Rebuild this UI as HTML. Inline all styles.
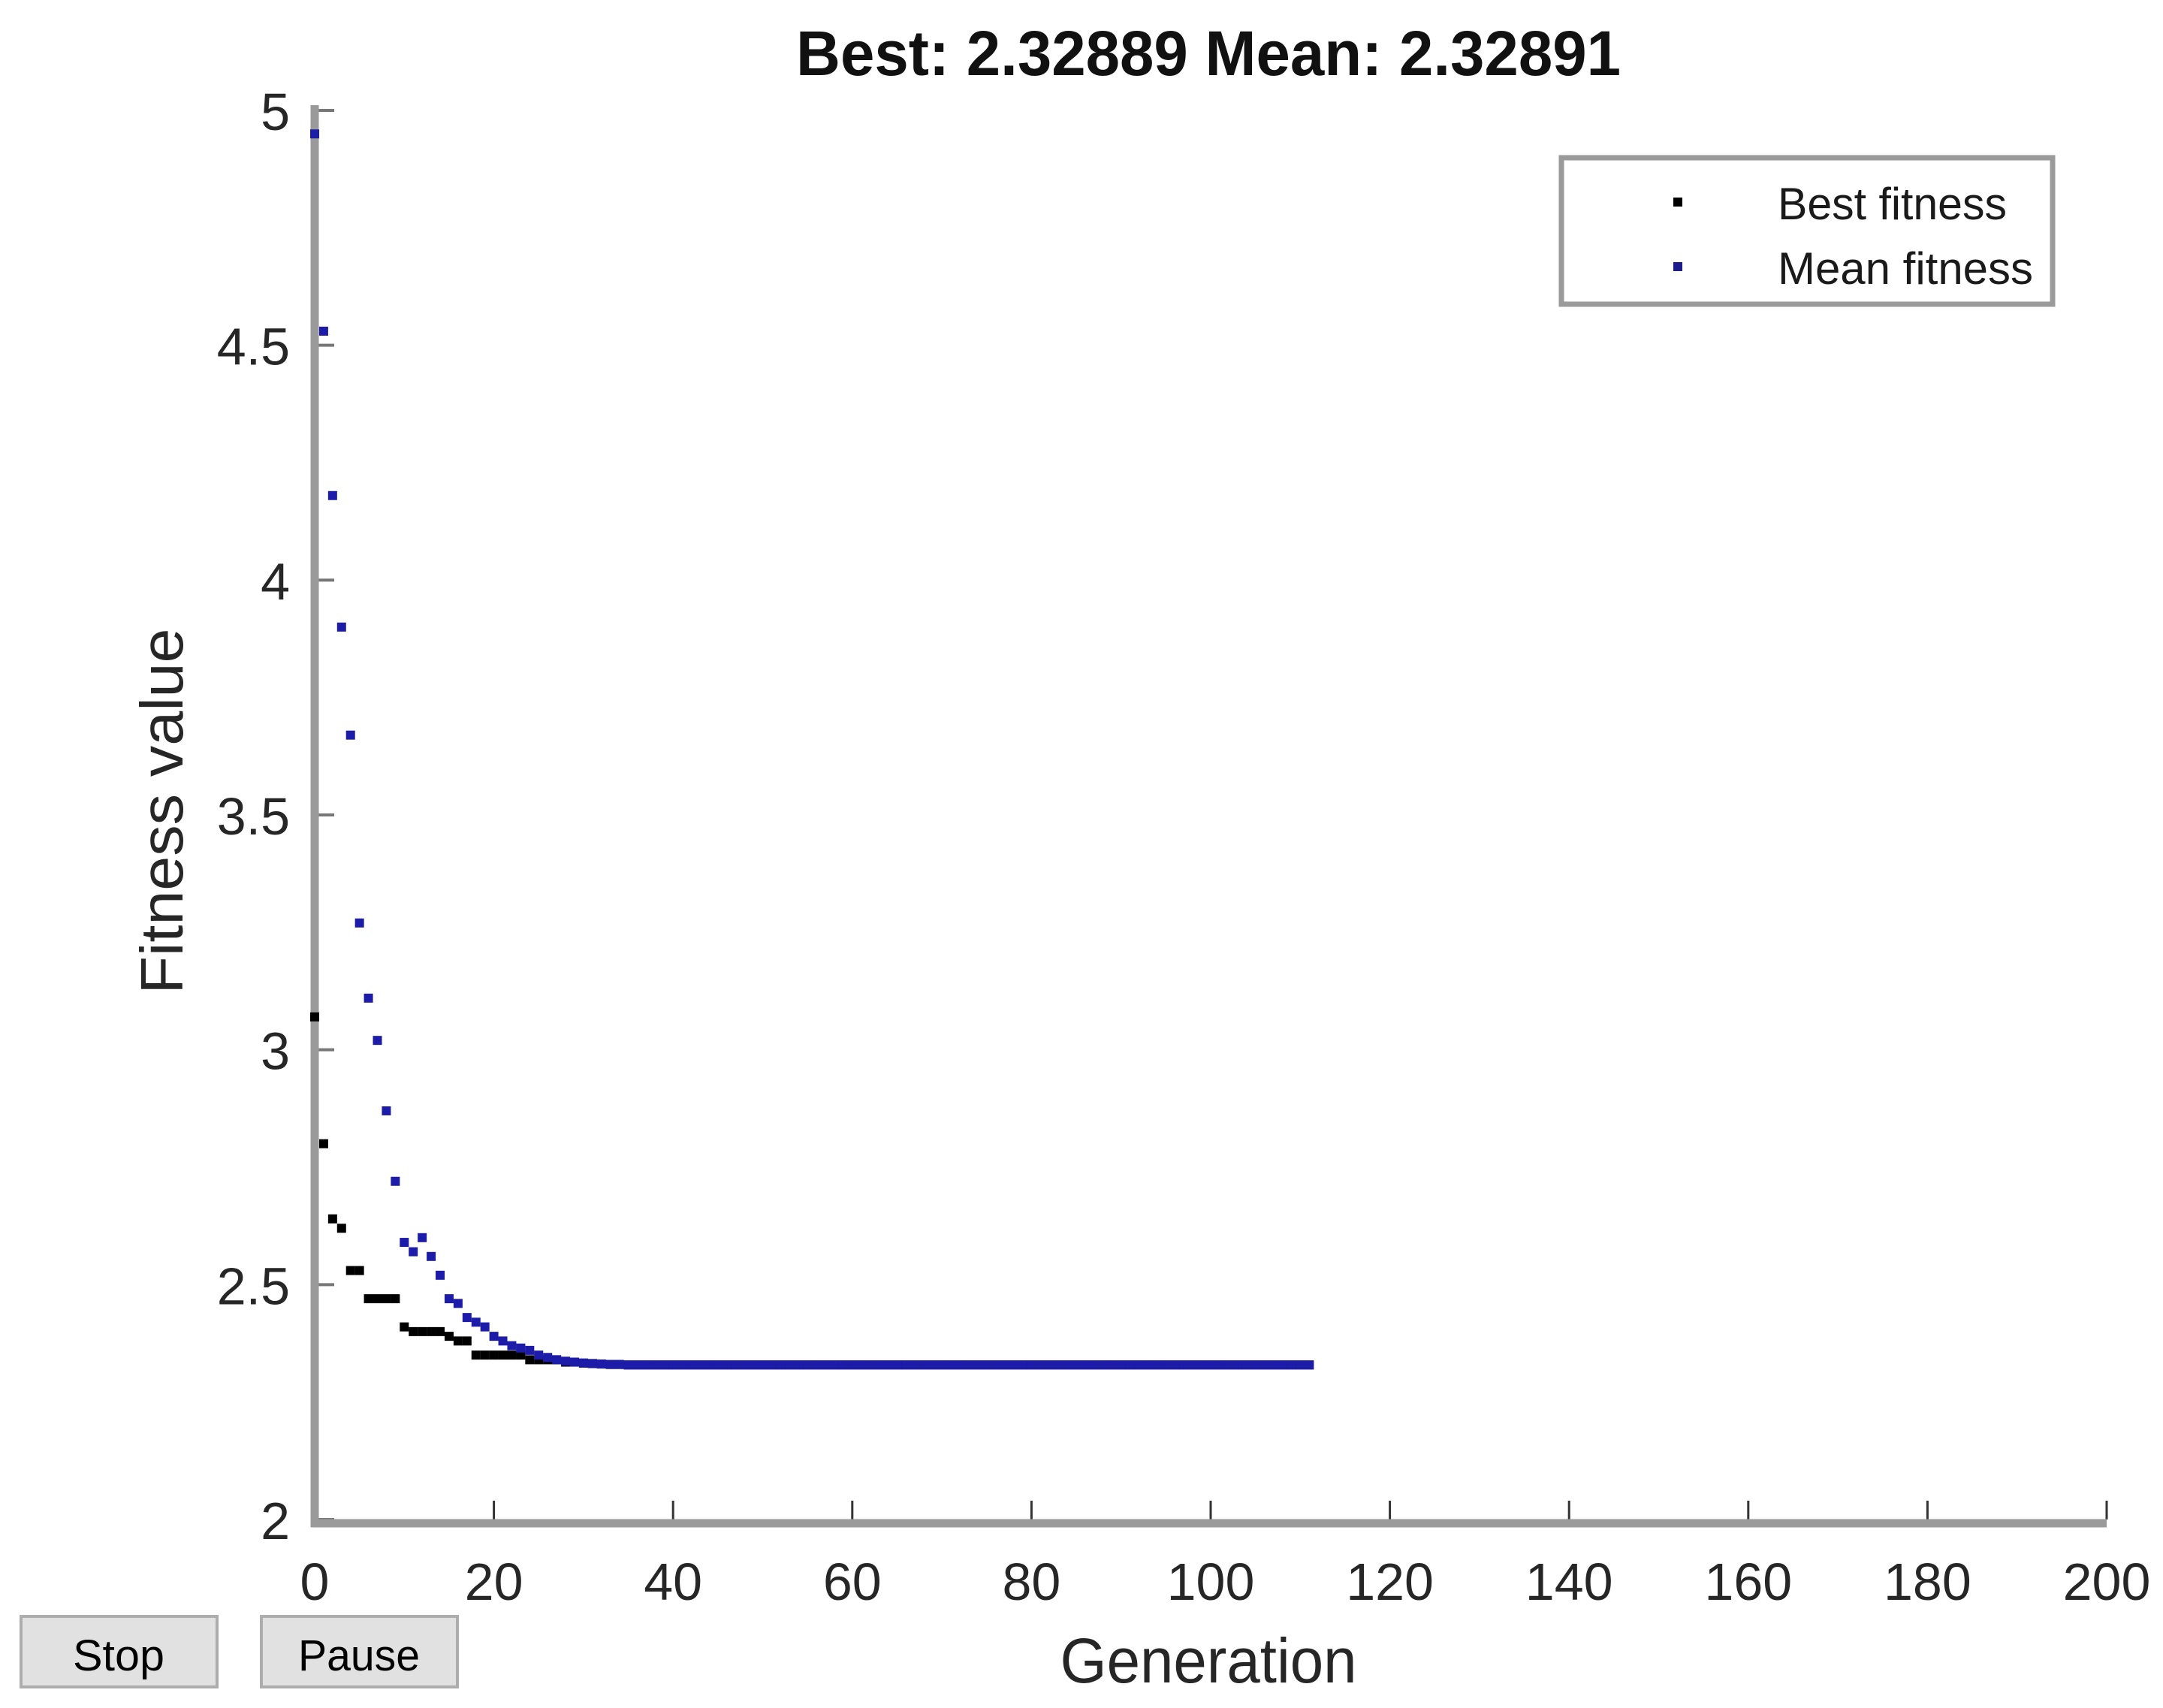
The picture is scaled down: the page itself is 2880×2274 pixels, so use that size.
<!DOCTYPE html>
<html><head><meta charset="utf-8"><style>
html,body{margin:0;padding:0;background:#fff;}
svg{display:block;}
text{font-family:"Liberation Sans",sans-serif;}
</style></head><body>
<svg id="chart" width="2880" height="2274" viewBox="0 0 2880 2274" xmlns="http://www.w3.org/2000/svg">
<rect width="2880" height="2274" fill="#fff"/>
<text x="1609" y="100" text-anchor="middle" font-weight="bold" font-size="84" textLength="1098" lengthAdjust="spacingAndGlyphs" fill="#111">Best: 2.32889 Mean: 2.32891</text>
<g id="xticks"></g>
<g id="yticks"></g>
<line x1="419" y1="140" x2="419" y2="2033" stroke="#9a9a9a" stroke-width="11"/>
<line x1="414" y1="2028" x2="2805" y2="2028" stroke="#9a9a9a" stroke-width="11"/>
<g id="marks"></g>
<text transform="translate(243,1080) rotate(-90)" text-anchor="middle" font-size="80" textLength="487" lengthAdjust="spacingAndGlyphs" fill="#262626">Fitness value</text>
<text x="1609" y="2240" text-anchor="middle" font-size="84" textLength="395" lengthAdjust="spacingAndGlyphs" fill="#262626">Generation</text>
<g>
<rect x="2079" y="210" width="654" height="195" fill="#fff" stroke="#9a9a9a" stroke-width="7"/>
<rect x="2228" y="263" width="12" height="12" fill="#000"/>
<text x="2367" y="292" font-size="60" textLength="305" lengthAdjust="spacingAndGlyphs" fill="#1a1a1a">Best fitness</text>
<rect x="2228" y="349" width="12" height="12" fill="#1c1c8c"/>
<text x="2367" y="378" font-size="60" textLength="340" lengthAdjust="spacingAndGlyphs" fill="#1a1a1a">Mean fitness</text>
</g>
<g>
<rect x="28" y="2152" width="261" height="94" fill="#e1e1e1" stroke="#adadad" stroke-width="4"/>
<text x="158" y="2224" text-anchor="middle" font-size="58" fill="#000" textLength="122" lengthAdjust="spacingAndGlyphs">Stop</text>
</g>
<g>
<rect x="348" y="2152" width="261" height="94" fill="#e1e1e1" stroke="#adadad" stroke-width="4"/>
<text x="478" y="2224" text-anchor="middle" font-size="58" fill="#000" textLength="162" lengthAdjust="spacingAndGlyphs">Pause</text>
</g>
</svg>
<script>
const xTickValues = [0,20,40,60,80,100,120,140,160,180,200];
const yTickValues = [2,2.5,3,3.5,4,4.5,5];
const yTickLabels = ["2","2.5","3","3.5","4","4.5","5"];
const meanFitness = [4.95,4.53,4.18,3.90,3.67,3.27,3.11,3.02,2.87,2.72,2.59,2.57,2.60,2.56,2.52,2.47,2.46,2.43,2.42,2.41,2.39,2.38,2.37,2.365,2.36,2.35,2.345,2.34,2.337,2.335,2.333,2.332,2.331,2.330,2.330,
2.329,2.329,2.329,2.329,2.329,2.329,2.329,2.329,2.329,2.329,2.329,
2.329,2.329,2.329,2.329,2.329,2.329,2.329,2.329,2.329,2.329,2.329,
2.329,2.329,2.329,2.329,2.329,2.329,2.329,2.329,2.329,2.329,2.329,
2.329,2.329,2.329,2.329,2.329,2.329,2.329,2.329,2.329,2.329,2.329,
2.329,2.329,2.329,2.329,2.329,2.329,2.329,2.329,2.329,2.329,2.329,
2.329,2.329,2.329,2.329,2.329,2.329,2.329,2.329,2.329,2.329,2.329,
2.329,2.329,2.329,2.329,2.329,2.329,2.329,2.329,2.329,2.329,2.329];
const bestFitness = [3.07,2.80,2.64,2.62,2.53,2.53,2.47,2.47,2.47,2.47,2.41,2.40,2.40,2.40,2.40,2.39,2.38,2.38,2.35,2.35,2.35,2.35,2.35,2.35,2.34,2.34,2.34,2.34,2.335,2.335,2.333,2.332,2.331,2.330,2.330,
2.329,2.329,2.329,2.329,2.329,2.329,2.329,2.329,2.329,2.329,2.329,
2.329,2.329,2.329,2.329,2.329,2.329,2.329,2.329,2.329,2.329,2.329,
2.329,2.329,2.329,2.329,2.329,2.329,2.329,2.329,2.329,2.329,2.329,
2.329,2.329,2.329,2.329,2.329,2.329,2.329,2.329,2.329,2.329,2.329,
2.329,2.329,2.329,2.329,2.329,2.329,2.329,2.329,2.329,2.329,2.329,
2.329,2.329,2.329,2.329,2.329,2.329,2.329,2.329,2.329,2.329,2.329,
2.329,2.329,2.329,2.329,2.329,2.329,2.329,2.329,2.329,2.329,2.329];

const NS = "http://www.w3.org/2000/svg";
const X0 = 419, X1 = 2805, Y0 = 2023, Y1 = 147;
function xScale(v){ return X0 + (v - 0) / 200 * (X1 - X0); }
function yScale(v){ return Y0 - (v - 2) / 3 * (Y0 - Y1); }
function mk(tag, attrs){ const e = document.createElementNS(NS, tag); for (const k in attrs) e.setAttribute(k, attrs[k]); return e; }

const xg = document.getElementById('xticks');
xTickValues.forEach(v => {
  const x = xScale(v);
  const t = mk('line', {x1:x, y1:2023, x2:x, y2:1998, stroke:'#333', 'stroke-width':3});
  
  
  xg.appendChild(t);
  const l = mk('text', {x:x, y:2130, 'text-anchor':'middle', 'font-size':70, fill:'#262626'});
  
  
  l.textContent = String(v);
  xg.appendChild(l);
});
const yg = document.getElementById('yticks');
yTickValues.forEach((v, i) => {
  const y = yScale(v);
  const t = mk('line', {x1:419, y1:y, x2:445, y2:y, stroke:'#777', 'stroke-width':4});
  
  
  yg.appendChild(t);
  const l = mk('text', {x:386, y:y + 26, 'text-anchor':'end', 'font-size':70, fill:'#262626'});
  
  
  l.textContent = yTickLabels[i];
  yg.appendChild(l);
});
const mg = document.getElementById('marks');
bestFitness.forEach((v, i) => {
  const r = mk('rect', {x:xScale(i) - 6, y:yScale(v) - 6, width:12, height:12, fill:'#000'});
  
  
  mg.appendChild(r);
});
meanFitness.forEach((v, i) => {
  const r = mk('rect', {x:xScale(i) - 6, y:yScale(v) - 6, width:12, height:12, fill:'#1c1ca8'});
  
  
  mg.appendChild(r);
});
</script>
</body></html>
